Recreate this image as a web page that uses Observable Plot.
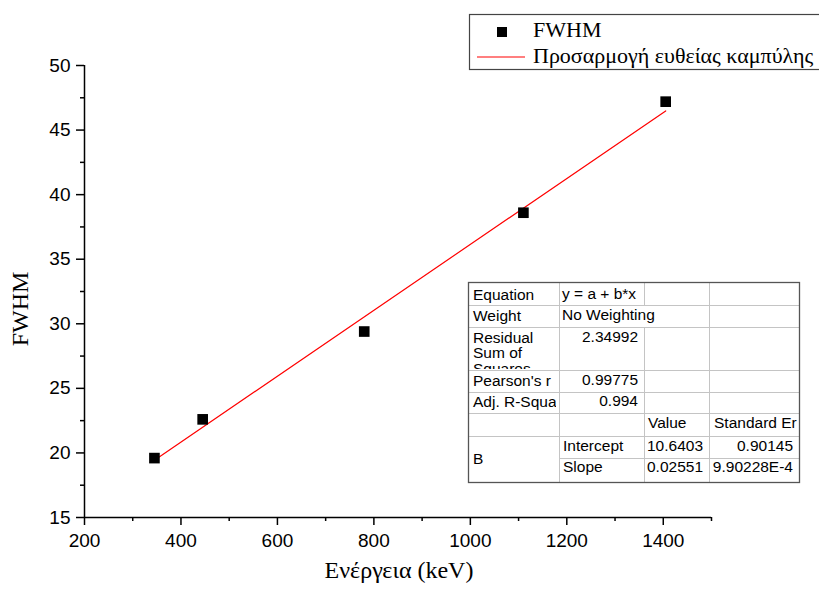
<!DOCTYPE html>
<html>
<head>
<meta charset="utf-8">
<script src="https://cdn.jsdelivr.net/npm/d3@7"></script>
<script src="https://cdn.jsdelivr.net/npm/@observablehq/plot@0.6"></script>
<style>
  html, body { margin: 0; padding: 0; background: #fff; }
  #chart { position: relative; width: 819px; height: 590px; overflow: hidden; }
  svg { display: block; }
</style>
</head>
<body>
<div id="chart"></div>
<script>
// ---- data ----
const energy = [345, 445, 780, 1110, 1405];
const fwhm = [19.6, 22.6, 29.4, 38.6, 47.2];
const fitEnergy = [345, 1405];
const fitFwhm = [19.44, 46.48];

const xMajorTicks = [200, 400, 600, 800, 1000, 1200, 1400];
const xMinorTicks = [300, 500, 700, 900, 1100, 1300, 1500];
const yMajorTicks = [15, 20, 25, 30, 35, 40, 45, 50];
const yMinorTicks = [17.5, 22.5, 27.5, 32.5, 37.5, 42.5, 47.5];

const xTitle = "Ενέργεια (keV)";
const yTitle = "FWHM";
const legendLabels = ["FWHM", "Προσαρμογή ευθείας καμπύλης"];

const statNames = ["Equation", "Weight", "Residual Sum of Squares", "Pearson's r", "Adj. R-Square"];
const statValues = ["y = a + b*x", "No Weighting", "2.34992", "0.99775", "0.994"];
const paramHeaders = ["Value", "Standard Error"];
const paramGroup = "B";
const paramNames = ["Intercept", "Slope"];
const paramValues = ["10.6403", "0.02551"];
const paramErrors = ["0.90145", "9.90228E-4"];

const points = energy.map((e, i) => ({energy: e, fwhm: fwhm[i]}));
const fit = fitEnergy.map((e, i) => ({energy: e, fwhm: fitFwhm[i]}));

const tickFont = "Liberation Sans, Arial, sans-serif";
const serif = "Liberation Serif, Times New Roman, serif";

const plot = Plot.plot({
  width: 819,
  height: 590,
  marginLeft: 84,
  marginRight: 108,
  marginTop: 65,
  marginBottom: 73,
  style: {background: "#fff", fontFamily: tickFont},
  x: {domain: [200, 1500]},
  y: {domain: [15, 50]},
  marks: [
    Plot.line(fit, {x: "energy", y: "fwhm", stroke: "#ff0000", strokeWidth: 1.2}),
    Plot.dot(points, {x: "energy", y: "fwhm", symbol: "square", r: 6, fill: "#000", stroke: "none"}),
    Plot.axisX({ticks: xMajorTicks, tickSize: 8, tickPadding: 8, fontSize: 19, strokeWidth: 1.5, label: null, tickFormat: d => String(d), color: "#000"}),
    Plot.axisX({ticks: xMinorTicks, tickSize: 4, strokeWidth: 1.5, label: null, tickFormat: () => "", color: "#000"}),
    Plot.axisY({ticks: yMajorTicks, tickSize: 8, tickPadding: 6, fontSize: 19, strokeWidth: 1.5, label: null, tickFormat: d => String(d), color: "#000"}),
    Plot.axisY({ticks: yMinorTicks, tickSize: 4, strokeWidth: 1.5, label: null, tickFormat: () => "", color: "#000"}),
    Plot.ruleY([15], {stroke: "#000", strokeWidth: 1.5}),
    Plot.ruleX([200], {stroke: "#000", strokeWidth: 1.5})
  ]
});
document.getElementById("chart").appendChild(plot);

const svg = d3.select(plot);

// axis titles
svg.append("text")
  .attr("x", 399).attr("y", 578)
  .attr("text-anchor", "middle")
  .attr("font-family", serif).attr("font-size", 24).attr("fill", "#000")
  .text(xTitle);
svg.append("text")
  .attr("transform", "translate(28,309) rotate(-90)")
  .attr("text-anchor", "middle")
  .attr("font-family", serif).attr("font-size", 24).attr("fill", "#000")
  .text(yTitle);

// legend
const lg = svg.append("g").attr("text-anchor", "start");
lg.append("rect").attr("x", 469.5).attr("y", 14.5).attr("width", 400).attr("height", 55)
  .attr("fill", "#fff").attr("stroke", "#444").attr("stroke-width", 1.2);
lg.append("rect").attr("x", 497).attr("y", 27).attr("width", 10).attr("height", 10).attr("fill", "#000");
lg.append("line").attr("x1", 477).attr("x2", 525).attr("y1", 57).attr("y2", 57)
  .attr("stroke", "#ff0000").attr("stroke-width", 1.2);
lg.append("text").attr("x", 533).attr("y", 37).attr("text-anchor", "start")
  .attr("font-family", serif).attr("font-size", 22).attr("fill", "#000").text(legendLabels[0]);
lg.append("text").attr("x", 533).attr("y", 63).attr("text-anchor", "start")
  .attr("font-family", serif).attr("font-size", 22).attr("fill", "#000").text(legendLabels[1]);

// statistics table
const cols = [468, 559, 644, 709, 799];
const rows = [282, 305, 327, 370, 392, 413, 436, 458, 482];
const tg = svg.append("g").attr("font-family", tickFont).attr("font-size", 15.5).attr("fill", "#000").attr("text-anchor", "start");
tg.append("rect").attr("x", cols[0]).attr("y", rows[0])
  .attr("width", cols[4] - cols[0]).attr("height", rows[8] - rows[0]).attr("fill", "#fff");
const inner = "#c4c4c4";
function hline(y, x1, x2) { tg.append("line").attr("x1", x1).attr("x2", x2).attr("y1", y + 0.5).attr("y2", y + 0.5).attr("stroke", inner); }
function vline(x, y1, y2) { tg.append("line").attr("x1", x + 0.5).attr("x2", x + 0.5).attr("y1", y1).attr("y2", y2).attr("stroke", inner); }
[1, 2, 3, 4, 5, 6].forEach(i => hline(rows[i], cols[0], cols[4]));
hline(rows[7], cols[1], cols[4]);
vline(cols[1], rows[0], rows[8]);
vline(cols[2], rows[0], rows[1]);
vline(cols[2], rows[2], rows[8]);
vline(cols[3], rows[0], rows[8]);

const defs = svg.append("defs");
let clipId = 0;
function cell(str, x, y, anchor, clip) {
  const t = tg.append("text").attr("x", x).attr("y", y).attr("text-anchor", anchor || "start").text(str);
  if (clip) {
    const id = "clip" + (clipId++);
    defs.append("clipPath").attr("id", id).append("rect")
      .attr("x", clip[0]).attr("y", clip[1]).attr("width", clip[2] - clip[0]).attr("height", clip[3] - clip[1]);
    t.attr("clip-path", `url(#${id})`);
  }
  return t;
}
// left labels
cell(statNames[0], 473, 300);
cell(statNames[1], 473, 321);
const rss = statNames[2].split(" ");
cell(rss[0], 473, 343);
cell(rss[1] + " " + rss[2], 473, 358);
cell(rss[3], 473, 374, "start", [468, 327, 559, 369]);
cell(statNames[3], 473, 386);
cell(statNames[4], 473, 407, "start", [468, 392, 556, 413]);
// values
cell(statValues[0], 562, 299);
cell(statValues[1], 562, 320);
cell(statValues[2], 638, 342, "end");
cell(statValues[3], 638, 385, "end");
cell(statValues[4], 638, 406, "end");
// parameter block
cell(paramHeaders[0], 648, 428);
cell(paramHeaders[1], 714, 428, "start", [709, 413, 797, 436]);
cell(paramGroup, 473, 464);
cell(paramNames[0], 563, 451);
cell(paramNames[1], 563, 472);
cell(paramValues[0], 703, 451, "end");
cell(paramValues[1], 703, 472, "end");
cell(paramErrors[0], 793, 451, "end");
cell(paramErrors[1], 793, 472, "end");
tg.append("rect").attr("x", cols[0] + 0.5).attr("y", rows[0] + 0.5)
  .attr("width", cols[4] - cols[0]).attr("height", rows[8] - rows[0])
  .attr("fill", "none").attr("stroke", "#555").attr("stroke-width", 1.3);
</script>
</body>
</html>
